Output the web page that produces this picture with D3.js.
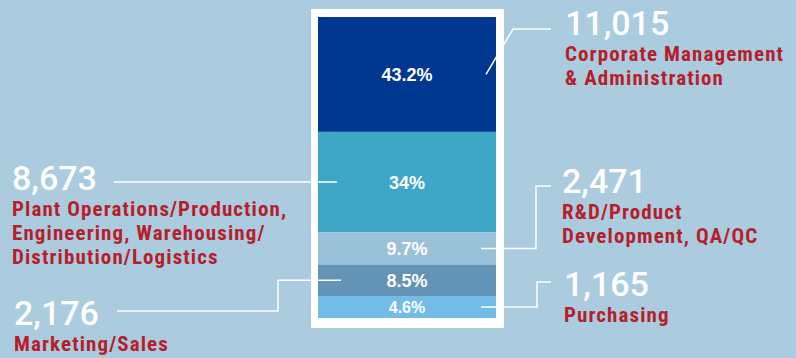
<!DOCTYPE html>
<html>
<head>
<meta charset="utf-8">
<script src="https://cdn.jsdelivr.net/npm/d3@7"></script>
<style>
  html, body { margin: 0; padding: 0; background: #abcbdf; }
  .num { font-family: Roboto, "Liberation Sans", sans-serif; font-weight: 500; fill: #fff; }
  .cat { font-family: "Liberation Sans Narrow", "Roboto Condensed", "DejaVu Sans Condensed", sans-serif; font-weight: bold; fill: #b51f2b; letter-spacing: 1.1px; }
  .pct { font-family: "Liberation Sans", Arial, sans-serif; font-weight: bold; fill: #fff; }
</style>
</head>
<body>
<div class="chart"></div>
<script>
// data
var categories = ["Corporate Management & Administration",
                  "Plant Operations/Production, Engineering, Warehousing/Distribution/Logistics",
                  "R&D/Product Development, QA/QC",
                  "Marketing/Sales",
                  "Purchasing"];
var labelLines = [["Corporate Management", "& Administration"],
                  ["Plant Operations/Production,", "Engineering, Warehousing/", "Distribution/Logistics"],
                  ["R&D/Product", "Development, QA/QC"],
                  ["Marketing/Sales"],
                  ["Purchasing"]];
var counts = [11015, 8673, 2471, 2176, 1165];
var shares = [43.2, 34, 9.7, 8.5, 4.6];
var colors = ["#003891", "#3ea7c7", "#9bc1d9", "#6393b5", "#72bde8"];

var width = 796;
var height = 358;

// label placement (text anchor, connector elbow, connector end)
var layout = [
  {x: 565, numY: 35, from: 486, elbow: 513, lineY: 29, to: 551, kind: "diag"},
  {x: 12, numY: null, from: 337, elbow: null, lineY: null, to: 114, kind: "straight"},
  {x: 562, numY: 193, from: 481, elbow: 536, lineY: 186, to: 551, kind: "step"},
  {x: 14, numY: 325, from: 341, elbow: 278, lineY: 311, to: 117, kind: "step"},
  {x: 564, numY: 296, from: 481, elbow: 537, lineY: 282, to: 551, kind: "step"}
];

var svg = d3.select(".chart")
            .append("svg")
            .attr("width", width)
            .attr("height", height);

// the infographic does not size its blocks linearly; a soft power scale matches it
var yScale = d3.scalePow()
               .exponent(0.85)
               .domain([0, d3.sum(shares)])
               .range([318, 17]);

// stack from the bottom up
var segs = shares.map((v, i) => {
  var base = d3.sum(shares.slice(i + 1));
  return {i: i, y0: yScale(base + v), y1: yScale(base)};
});

var barX = 318, barW = 178;

svg.append("rect")
   .attr("x", 311)
   .attr("y", 9)
   .attr("width", 193)
   .attr("height", 319)
   .attr("fill", "#fff");

svg.selectAll("rect.seg")
   .data(segs)
   .enter()
   .append("rect")
   .attr("class", "seg")
   .attr("x", barX)
   .attr("y", d => d.y0)
   .attr("width", barW)
   .attr("height", d => d.y1 - d.y0)
   .attr("fill", d => colors[d.i]);

svg.selectAll("text.pct")
   .data(segs)
   .enter()
   .append("text")
   .attr("class", "pct")
   .attr("x", barX + barW / 2)
   .attr("y", d => (d.y0 + d.y1) / 2)
   .attr("dy", "0.36em")
   .attr("text-anchor", "middle")
   .style("font-size", d => (d.y1 - d.y0 < 25 ? 16 : 18) + "px")
   .text(d => shares[d.i] + "%");

// connectors
svg.selectAll("path.conn")
   .data(segs)
   .enter()
   .append("path")
   .attr("class", "conn")
   .attr("fill", "none")
   .attr("stroke", "#fff")
   .attr("stroke-width", 1.5)
   .attr("d", d => {
     var L = layout[d.i];
     var mid = (d.y0 + d.y1) / 2;
     if (L.kind === "diag") return "M" + L.from + "," + mid + "L" + L.elbow + "," + L.lineY + "H" + L.to;
     if (L.kind === "straight") return "M" + L.from + "," + mid + "H" + L.to;
     return "M" + L.from + "," + mid + "H" + L.elbow + "V" + L.lineY + "H" + L.to;
   });

// labels
segs.forEach(d => {
  var L = layout[d.i];
  var numY = L.numY !== null ? L.numY : (d.y0 + d.y1) / 2 + 8;
  svg.append("text")
     .attr("class", "num")
     .attr("x", L.x)
     .attr("y", numY)
     .style("font-size", "34px")
     .text(d3.format(",")(counts[d.i]));
  var t = svg.append("text")
             .attr("class", "cat")
             .attr("x", L.x)
             .attr("y", numY + 26)
             .style("font-size", "21px");
  labelLines[d.i].forEach((line, k) => {
    t.append("tspan")
     .attr("x", L.x)
     .attr("dy", k === 0 ? 0 : 24)
     .text(line);
  });
});
</script>
</body>
</html>
